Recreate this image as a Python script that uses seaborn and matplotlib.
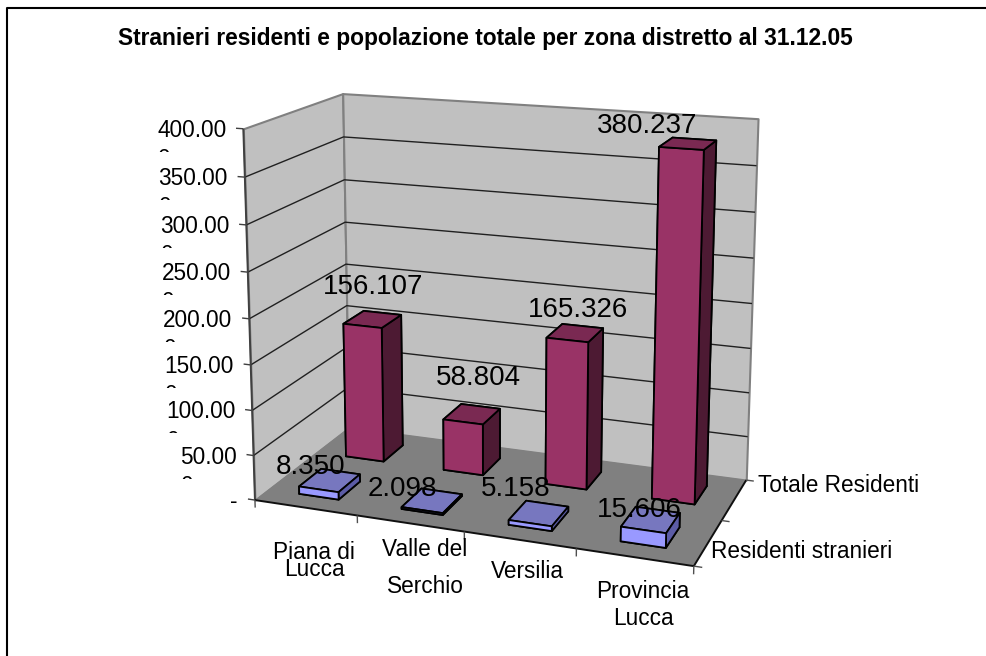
import seaborn as sns
import matplotlib
matplotlib.use("Agg")
import matplotlib.pyplot as plt
from matplotlib.lines import Line2D
from matplotlib.transforms import Bbox
from mpl_toolkits.mplot3d.art3d import Poly3DCollection
import numpy as np
import pandas as pd

# Dati del grafico
zone = ["Piana di\nLucca", "Valle del\nSerchio", "Versilia", "Provincia\nLucca"]
serie = ["Residenti stranieri", "Totale Residenti"]
stranieri = [8350, 2098, 5158, 15606]
totale = [156107, 58804, 165326, 380237]
etichette_stranieri = ["8.350", "2.098", "5.158", "15.606"]
etichette_totale = ["156.107", "58.804", "165.326", "380.237"]
tick_valori = [0, 50000, 100000, 150000, 200000, 250000, 300000, 350000, 400000]
tick_etichette = ["-", "50.00\n0", "100.00\n0", "150.00\n0", "200.00\n0", "250.00\n0",
                  "300.00\n0", "350.00\n0", "400.00\n0"]
titolo = "Stranieri residenti e popolazione totale per zona distretto al 31.12.05"

df = pd.DataFrame({"stranieri": stranieri, "totale": totale}, index=zone)

sns.set_theme(style="white")
plt.rcParams["font.family"] = ["Liberation Sans", "DejaVu Sans"]
plt.rcParams["text.color"] = "black"

L, H = 987, 656
ZMAX = 400000
fig = plt.figure(figsize=(L / 100, H / 100), dpi=100, facecolor="white")
ax = fig.add_axes([0, 0, 1, 1], projection="3d", computed_zorder=False)
ax.set_axis_off()
ax.set_proj_type("ortho")  # niente clip sulla profondita


# Proiezione prospettica stimata dagli angoli della scatola
def calcola_proiezione():
    angoli = [
        ((0, 0, 0), (256, 500)), ((0, 0, 1), (243, 128)),
        ((0, 2, 0), (348, 428)), ((0, 2, 1), (343, 94)),
        ((4, 2, 0), (747, 479)), ((4, 2, 1), (758, 119)),
        ((4, 0, 0), (693, 567)),
    ]
    righe = []
    for (x, y, z), (u, v) in angoli:
        righe.append([x, y, z, 1, 0, 0, 0, 0, -u * x, -u * y, -u * z, -u])
        righe.append([0, 0, 0, 0, x, y, z, 1, -v * x, -v * y, -v * z, -v])
    p = np.linalg.svd(np.array(righe, float))[2][-1].reshape(3, 4)
    p = p / p[2, 3]
    p[:, 2] /= ZMAX
    return p


P = calcola_proiezione()
ax.apply_aspect()
inv = ax.transData.inverted().get_matrix()
# da pixel (y verso il basso) alle coordinate 2D degli assi
da_pixel = inv @ np.array([[1, 0, 0], [0, -1, H], [0, 0, 1]], float)
w = P[2]
M = np.array([
    da_pixel[0, 0] * P[0] + da_pixel[0, 1] * P[1] + da_pixel[0, 2] * w,
    da_pixel[1, 0] * P[0] + da_pixel[1, 1] * P[1] + da_pixel[1, 2] * w,
    np.array([-0.05, 0.3, -0.2 / ZMAX, 0.0]),
    w,
])
ax.get_proj = lambda: M


def pixel(x, y, z):
    q = P @ np.array([x, y, z, 1.0])
    return q[0] / q[2], q[1] / q[2]


def testo(px, py, s, **kw):
    return fig.text(px / L, 1 - py / H, s, color="black", **kw)


# Linee nello spazio dati, disegnate sopra le pareti
def linea(xs, ys, zs, colore="#202020", lw=1.0, z=2.5):
    ax.plot(xs, ys, zs, color=colore, lw=lw, zorder=z, solid_capstyle="butt")


# Pareti e pavimento
def faccia(verts, colore, bordo="#808080"):
    c = Poly3DCollection([verts], facecolors=colore, edgecolors=bordo, linewidths=1.5)
    c.set_zorder(0.5)
    ax.add_collection3d(c)


faccia([(0, 0, 0), (0, 2, 0), (0, 2, ZMAX), (0, 0, ZMAX)], "#C0C0C0")
faccia([(0, 2, 0), (4, 2, 0), (4, 2, ZMAX), (0, 2, ZMAX)], "#C0C0C0")
faccia([(0, 0, 0), (4, 0, 0), (4, 2, 0), (0, 2, 0)], "#808080", bordo="none")

# Griglia orizzontale su pareti
for v in tick_valori[1:-1]:
    linea([0, 0, 4], [0, 2, 2], [v, v, v])

# Assi
linea([0, 0], [0, 0], [0, ZMAX], "#404040", 1.4)
linea([0, 4, 4], [0, 0, 2], [0, 0, 0], "#101010", 1.4)

# Barre: facce -z, +z, -y, +y, -x, +x
VINO = ["#993366", "#7A2952", "#993366", "#993366", "#4D1A33", "#4D1A33"]
LILLA = ["#9999FF", "#7777BF", "#9999FF", "#9999FF", "#5C5CA6", "#5C5CA6"]
larg = 0.39
prof = 0.46
for j, (col, colori) in enumerate([("totale", VINO), ("stranieri", LILLA)]):
    yc = 1.5 if col == "totale" else 0.5
    for i, v in enumerate(df[col]):
        ax.bar3d(i + 0.5 - larg / 2, yc - prof / 2, 0, larg, prof, v, color=colori,
                 shade=False, edgecolor="black", linewidth=1.3, zorder=3 + j)

# Etichette dei dati
off_totale = [(1, -19), (7, -23), (3, -10), (-41, -5)]
off_stranieri = [(-19, 0), (-30, 1), (-23, -11), (-11, 3)]
for i in range(4):
    xp, yp = pixel(i + 0.5, 1.5, totale[i])
    testo(xp + off_totale[i][0], yp + off_totale[i][1], etichette_totale[i], fontsize=20,
          ha="center", va="bottom", zorder=10)
    xp, yp = pixel(i + 0.5, 0.5, stranieri[i])
    testo(xp + off_stranieri[i][0], yp + off_stranieri[i][1], etichette_stranieri[i], fontsize=20,
          ha="center", va="bottom", zorder=10)

# Etichette asse valori: la seconda riga resta tagliata come nell'originale
for v, s in zip(tick_valori, tick_etichette):
    xp, yp = pixel(0, 0, v)
    linea([0, -0.07], [0, 0], [v, v], "#404040")
    t = testo(xp - 17, yp - 10, s, fontsize=16.3, ha="right", va="top", multialignment="left",
              linespacing=1.35)
    t.set_clip_box(Bbox.from_extents(0, H - (yp + 23), L, H))
    t.set_clip_on(True)

# Etichette categorie
cat_pos = [(314, 561), (425, 568), (527, 571), (643, 605)]
cat_interlinea = [0.65, 1.75, 1.0, 1.27]
for s, (xp, yp), il in zip(zone, cat_pos, cat_interlinea):
    testo(xp, yp, s, fontsize=16.3, ha="center", va="center", linespacing=il, multialignment="center")
for i in range(5):
    linea([i, i], [0, 0], [0, -8500], "#505050")

# Etichette serie
for k in range(3):
    linea([4, 4.07], [k, k], [0, 0], "#505050")
testo(758, 485.5, serie[1], fontsize=16.3, ha="left", va="center")
testo(711, 552, serie[0], fontsize=16.3, ha="left", va="center")

# Titolo e cornice (solo lati sinistro e superiore)
testo(485, 39, titolo, fontsize=16.43, fontweight="bold", ha="center", va="center")
fig.add_artist(Line2D([7.5 / L, 7.5 / L, 1], [0, 1 - 7.5 / H, 1 - 7.5 / H],
                      color="black", lw=1.5, transform=fig.transFigure))

fig.savefig("out.png", dpi=100)
